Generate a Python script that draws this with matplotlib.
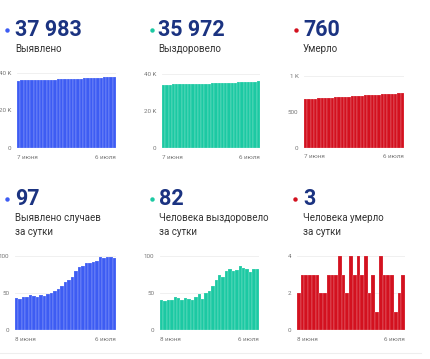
import matplotlib
matplotlib.use('Agg')
import matplotlib.pyplot as plt
from matplotlib.lines import Line2D

plt.rcParams['font.family'] = ['Roboto', 'DejaVu Sans']

# cumulative, 7 June - 6 July
total_cases = [35993, 36036, 36078, 36122, 36167, 36214, 36260, 36305, 36352, 36398,
               36446, 36496, 36549, 36605, 36665, 36730, 36797, 36869, 36949, 37034,
               37121, 37211, 37302, 37394, 37487, 37586, 37683, 37781, 37880, 37983]
total_recovered = [34231, 34271, 34310, 34350, 34391, 34436, 34479, 34519, 34562, 34604,
                   34644, 34688, 34736, 34778, 34828, 34881, 34941, 35008, 35083, 35155,
                   35235, 35317, 35397, 35478, 35564, 35648, 35730, 35808, 35890, 35972]
total_deaths = [678, 680, 683, 686, 689, 692, 695, 697, 699, 702, 705, 708, 712, 715, 717,
                721, 724, 728, 731, 735, 737, 740, 741, 745, 748, 751, 754, 755, 757, 760]

# daily, 8 June - 6 July
daily_cases = [43, 42, 44, 45, 47, 46, 45, 47, 46, 48, 50, 53, 56, 60, 65, 67, 72, 80,
               85, 87, 90, 91, 92, 93, 99, 97, 98, 99, 97]
daily_recovered = [40, 39, 40, 41, 45, 43, 40, 43, 42, 40, 44, 48, 42, 50, 53, 60, 67,
                   75, 72, 80, 82, 80, 81, 86, 84, 82, 78, 82, 82]
daily_deaths = [2, 3, 3, 3, 3, 3, 2, 2, 3, 3, 3, 4, 3, 2, 4, 3, 4, 3, 4, 2, 3, 1, 4, 3,
                3, 3, 1, 2, 3]

headlines = ['37 983', '35 972', '760', '97', '82', '3']
captions = [['Выявлено'], ['Выздоровело'], ['Умерло'],
            ['Выявлено случаев', 'за сутки'], ['Человека выздоровело', 'за сутки'],
            ['Человека умерло', 'за сутки']]
date_top = ('7 июня', '6 июля')
date_bottom = ('8 июня', '6 июля')

BLUE = '#3d5cf3'
TEAL = '#1cc9a3'
RED = '#d3111f'
NAVY = '#1b3381'

W, H = 430, 359
fig = plt.figure(figsize=(W / 100, H / 100), dpi=100)
fig.patch.set_facecolor('white')


def px_axes(x0, x1, y0, y1):
    return fig.add_axes([x0 / W, 1 - y1 / H, (x1 - x0) / W, (y1 - y0) / H])


panels = [
    # values, color, yticks, ylabels, axes px (x0, x1, ytop, ybottom), dot x, text x, row, dates
    (total_cases, BLUE, [0, 20000, 40000], ['0', '20 K', '40 K'], (17, 116, 73, 148), 7, 15, 0, date_top),
    (total_recovered, TEAL, [0, 20000, 40000], ['0', '20 K', '40 K'], (162, 260, 74, 148), 152, 158, 0, date_top),
    (total_deaths, RED, [0, 500, 1000], ['0', '500', '1 K'], (304, 404, 76, 148), 296, 303, 0, date_top),
    (daily_cases, BLUE, [0, 50, 100], ['0', '50', '100'], (15, 116, 256, 330), 7, 15, 1, date_bottom),
    (daily_recovered, TEAL, [0, 50, 100], ['0', '50', '100'], (160, 259, 256, 330), 152, 159, 1, date_bottom),
    (daily_deaths, RED, [0, 2, 4], ['0', '2', '4'], (297, 405, 256, 330), 295, 303, 1, date_bottom),
]

for i, (vals, color, yt, yl, (x0, x1, yt0, yb), dx, tx, row, dates) in enumerate(panels):
    ax = px_axes(x0, x1, yt0, yb)
    n = len(vals)
    ax.bar(range(n), vals, width=1.0, color=color, edgecolor=(1, 1, 1, 0.45),
           linewidth=0.3, zorder=2)
    ax.set_xlim(-0.5, n - 0.5)
    ax.set_ylim(0, yt[-1])
    ax.set_yticks(yt)
    ax.set_yticklabels(yl)
    ax.tick_params(axis='y', length=0, pad=4, labelsize=4.5, labelcolor='#777777')
    ax.set_xticks([])
    ax.grid(axis='y', color='#eeeeee', linewidth=0.6, zorder=0)
    ax.set_axisbelow(True)
    for s in ax.spines.values():
        s.set_visible(False)
    ax.text(0, -0.09, dates[0], transform=ax.transAxes, ha='left', va='top',
            fontsize=4.5, color='#777777')
    ax.text(1, -0.09, dates[1], transform=ax.transAxes, ha='right', va='top',
            fontsize=4.5, color='#777777')

    base = 36 if row == 0 else 205
    fig.add_artist(Line2D([dx / W], [1 - (base - 6.5) / H], marker='o', markersize=3.2,
                          color=color, markeredgewidth=0, transform=fig.transFigure))
    fig.text(tx / W, 1 - base / H, headlines[i], fontsize=15.5, fontweight='bold',
             color=NAVY, ha='left', va='baseline')
    for k, line in enumerate(captions[i]):
        fig.text(tx / W, 1 - (base + 16 + 14 * k) / H, line, fontsize=7, color='#333333',
                 ha='left', va='baseline')

fig.add_artist(Line2D([0, 0.98], [1 - 353 / H, 1 - 353 / H], color='#eeeeee',
                      linewidth=0.8, transform=fig.transFigure))

fig.savefig('out.png', dpi=100, facecolor='white')
